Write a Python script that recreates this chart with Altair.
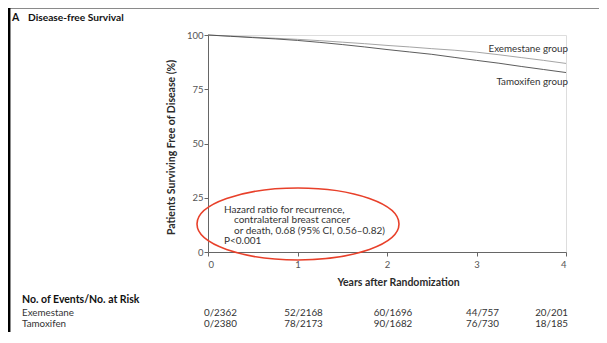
import altair as alt
import pandas as pd

FONT = "Lato"

# ---- data ----
years = [0, 0.25, 0.5, 0.75, 1.0, 1.25, 1.5, 1.75, 2.0, 2.25, 2.5, 2.75, 3.0, 3.25, 3.5, 3.75, 4.0]
exemestane = [100, 99.5, 99.0, 98.5, 98.0, 97.4, 96.7, 96.0, 95.2, 94.5, 93.7, 93.0, 92.1, 90.9, 89.6, 88.3, 86.9]
tamoxifen = [100, 99.4, 98.8, 98.2, 97.5, 96.6, 95.6, 94.5, 93.3, 92.2, 91.1, 89.7, 88.3, 87.0, 85.5, 84.1, 82.7]
groups = ["Exemestane", "Tamoxifen"]

x_ticks = [0, 1, 2, 3, 4]
y_ticks = [0, 25, 50, 75, 100]

risk_years = [0, 1, 2, 3, 4]
exe_events = [0, 52, 60, 44, 20]
exe_risk = [2362, 2168, 1696, 757, 201]
tam_events = [0, 78, 90, 76, 18]
tam_risk = [2380, 2173, 1682, 730, 185]

hr_lines = ["Hazard ratio for recurrence,", "contralateral breast cancer",
            "or death, 0.68 (95% CI, 0.56\u20130.82)", "P<0.001"]

# ---- tables ----
curves = pd.DataFrame({
    "year": years + years,
    "surv": exemestane + tamoxifen,
    "group": [groups[0]] * len(years) + [groups[1]] * len(years),
})

W, H = 358, 217
xs = alt.Scale(domain=[0, 4], nice=False)
ys = alt.Scale(domain=[0, 100], nice=False)

TXT = "#2b2b2b"

lines = alt.Chart(curves).mark_line(strokeWidth=0.9, clip=False).encode(
    x=alt.X("year:Q", scale=xs, axis=alt.Axis(
        values=x_ticks, format="d", title="Years after Randomization",
        titleFont=FONT, titleFontSize=10.5, titleFontWeight="bold", titleColor=TXT,
        titleX=190, titleY=30, titleBaseline="middle",
        labelFont=FONT, labelFontSize=9.5, labelColor="#555", labelPadding=3,
        tickSize=4, tickColor="#666", domainColor="#666", grid=False)),
    y=alt.Y("surv:Q", scale=ys, axis=alt.Axis(
        values=y_ticks, title="Patients Surviving Free of Disease (%)",
        titleFont=FONT, titleFontSize=10.5, titleFontWeight="bold", titleColor=TXT,
        titleX=-37, titleY=112, titleBaseline="middle", titleAlign="center", titleAngle=270,
        labelFont=FONT, labelFontSize=9.5, labelColor="#555", labelPadding=1,
        tickSize=4, tickColor="#666", domainColor="#666", grid=False)),
    color=alt.Color("group:N", scale=alt.Scale(domain=groups, range=["#9a9a9a", "#4a4a4a"]), legend=None),
    detail="group:N",
)


def label(text, x, y, size=9, weight="normal", align="left", color=TXT):
    return alt.Chart(alt.Data(values=[{"t": text}])).mark_text(
        align=align, baseline="middle", font=FONT, fontSize=size, fontWeight=weight, color=color
    ).encode(x=alt.value(x), y=alt.value(y), text=alt.Text("t:N"))


layers = [lines]

# group labels
layers.append(label("Exemestane group", 360, 13.5, size=9.8, align="right", color="#333"))
layers.append(label("Tamoxifen group", 360, 47, size=9.8, align="right", color="#333"))

# hazard ratio annotation
HR = 10
layers.append(label(hr_lines[0], 16, 174.5, size=HR, color="#333"))
layers.append(label(hr_lines[1], 26, 185, size=HR, color="#333"))
layers.append(label(hr_lines[2], 26, 195.5, size=HR, color="#333"))
layers.append(label(hr_lines[3], 16, 206, size=HR, color="#333"))

# red ellipse
ellipse_path = "M -1 0 A 1 0.356 0 1 0 1 0 A 1 0.356 0 1 0 -1 0 Z"
layers.append(alt.Chart(alt.Data(values=[{"k": 1}])).mark_point(
    shape=ellipse_path, filled=False, stroke="#e8402a", strokeWidth=1.6, size=202 * 202, opacity=1
).encode(x=alt.value(90), y=alt.value(189)))

# title
layers.append(label("A", -196, -17, size=10.5, weight="bold", color="#111"))
layers.append(label("Disease-free Survival", -180, -17, size=10.2, weight="bold", color="#111"))

# risk table
layers.append(label("No. of Events/No. at Risk", -186, 265, size=10.5, weight="bold", color="#111"))
layers.append(label("Exemestane", -186, 278, size=9.8, color="#333"))
layers.append(label("Tamoxifen", -186, 289, size=9.8, color="#333"))

risk = pd.DataFrame({
    "year": risk_years + risk_years,
    "txt": [f"{e}/{r}" for e, r in zip(exe_events, exe_risk)] + [f"{e}/{r}" for e, r in zip(tam_events, tam_risk)],
    "row": ["Exemestane"] * 5 + ["Tamoxifen"] * 5,
})
row_y = {"Exemestane": 278, "Tamoxifen": 289}
for row in ["Exemestane", "Tamoxifen"]:
    sub = risk[risk["row"] == row]
    for sel, align, dx in [(sub["year"] == 0, "left", -4), ((sub["year"] > 0) & (sub["year"] < 4), "center", 6),
                           (sub["year"] == 4, "right", 2)]:
        layers.append(alt.Chart(sub[sel]).mark_text(
            align=align, baseline="middle", font=FONT, fontSize=9.8, color="#333", dx=dx
        ).encode(x=alt.X("year:Q", scale=xs), y=alt.value(row_y[row]), text="txt:N"))

# frame lines
layers.append(alt.Chart(alt.Data(values=[{"k": 1}])).mark_rule(color="#8a8a8a", strokeWidth=1).encode(
    x=alt.value(-200), x2=alt.value(391), y=alt.value(-26.5)))
layers.append(alt.Chart(alt.Data(values=[{"k": 1}])).mark_rule(color="#000000", strokeWidth=2.5).encode(
    x=alt.value(-198.8), y=alt.value(-27), y2=alt.value(300)))

chart = alt.layer(*layers).properties(
    width=W, height=H,
    autosize=alt.AutoSizeParams(type="none"),
    padding={"left": 200, "top": 27, "right": 33, "bottom": 80},
).configure_view(stroke=None).configure(background="white")

chart.save("out.html", embed_options={"renderer": "svg", "actions": False})
